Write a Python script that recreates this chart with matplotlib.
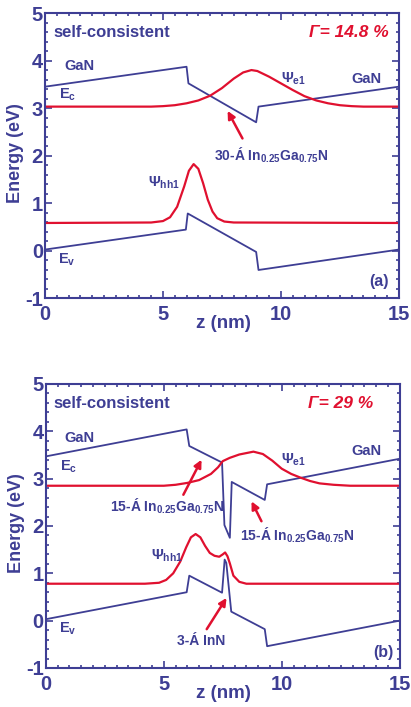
import matplotlib
matplotlib.use('Agg')
import matplotlib.pyplot as plt
from matplotlib.ticker import MultipleLocator

BLUE = '#3e3e94'
RED = '#e0102f'

plt.rcParams['font.family'] = ['Liberation Sans', 'DejaVu Sans']
plt.rcParams['font.weight'] = 'bold'
plt.rcParams['axes.labelweight'] = 'bold'
plt.rcParams['mathtext.fontset'] = 'custom'
plt.rcParams['mathtext.rm'] = 'Liberation Sans:bold'
plt.rcParams['mathtext.it'] = 'Liberation Sans:bold:italic'
plt.rcParams['mathtext.bf'] = 'Liberation Sans:bold'

x_ticks = [0, 5, 10, 15]
y_ticks = [-1, 0, 1, 2, 3, 4, 5]

# panel (a): single 30-A InGaN well
ec_a_z = [0, 6.0, 6.08, 8.95, 9.05, 15]
ec_a_e = [3.45, 3.87, 3.52, 2.70, 3.03, 3.45]
ev_a_z = [0, 5.97, 6.05, 8.95, 9.05, 15]
ev_a_e = [0.02, 0.44, 0.78, -0.03, -0.41, 0.02]
psi_e_a_z = [0, 4.5, 5.0, 5.5, 6.0, 6.5, 7.0, 7.5, 8.0, 8.4, 8.75, 9.0, 9.5,
             10.0, 10.5, 11.0, 11.5, 12.0, 12.5, 13.0, 13.5, 15]
psi_e_a_e = [3.03, 3.03, 3.04, 3.06, 3.10, 3.16, 3.26, 3.42, 3.62, 3.75, 3.80,
             3.78, 3.66, 3.52, 3.38, 3.25, 3.16, 3.10, 3.06, 3.04, 3.03, 3.03]
psi_h_a_z = [0, 4.5, 5.0, 5.3, 5.6, 5.9, 6.1, 6.3, 6.5, 6.7, 6.9, 7.1, 7.3,
             7.6, 8.0, 15]
psi_h_a_e = [0.58, 0.59, 0.62, 0.70, 0.92, 1.35, 1.68, 1.82, 1.72, 1.42, 1.07,
             0.82, 0.68, 0.61, 0.59, 0.58]

# panel (b): InGaN / InN / InGaN
ec_b_z = [0, 5.97, 6.08, 7.47, 7.57, 7.80, 7.88, 9.28, 9.38, 15]
ec_b_e = [3.47, 4.04, 3.69, 3.34, 2.02, 1.75, 2.93, 2.55, 2.88, 3.42]
ev_b_z = [0, 5.97, 6.08, 7.47, 7.58, 7.65, 7.86, 9.28, 9.38, 15]
ev_b_e = [0.03, 0.60, 0.95, 0.59, 1.29, 1.22, 0.19, -0.18, -0.54, 0.0]
psi_e_b_z = [0, 5.0, 5.5, 6.0, 6.5, 7.0, 7.3, 7.5, 7.8, 8.2, 8.8, 9.2, 9.6,
             10.0, 10.4, 10.8, 11.2, 11.6, 12.2, 12.9, 15]
psi_e_b_e = [2.85, 2.85, 2.87, 2.91, 2.97, 3.10, 3.24, 3.37, 3.44, 3.51, 3.57,
             3.52, 3.38, 3.21, 3.10, 3.02, 2.95, 2.90, 2.87, 2.85, 2.85]
psi_h_b_z = [0, 4.2, 4.8, 5.1, 5.4, 5.7, 5.95, 6.15, 6.35, 6.55, 6.75, 6.95,
             7.15, 7.35, 7.5, 7.6, 7.7, 7.8, 7.95, 8.2, 8.5, 15]
psi_h_b_e = [0.78, 0.78, 0.80, 0.86, 1.00, 1.25, 1.55, 1.76, 1.83, 1.76, 1.58,
             1.43, 1.37, 1.35, 1.40, 1.44, 1.36, 1.21, 0.95, 0.82, 0.78, 0.78]

fig = plt.figure(figsize=(4.11, 7.07), dpi=100)
ax_a = fig.add_axes([0.1095, 0.5785, 0.861, 0.403])
ax_b = fig.add_axes([0.1115, 0.0552, 0.861, 0.4017])


def style(ax):
    ax.set_xlim(0, 15)
    ax.set_ylim(-1, 5)
    ax.set_xticks(x_ticks)
    ax.set_xticklabels([str(t) for t in x_ticks], fontweight='bold')
    ax.set_yticks(y_ticks)
    ax.set_yticklabels([str(t) for t in y_ticks], fontweight='bold')
    ax.xaxis.set_minor_locator(MultipleLocator(0.5))
    ax.yaxis.set_minor_locator(MultipleLocator(0.2))
    ax.tick_params(which='both', direction='in', top=True, right=True,
                   color=BLUE, width=1.2, labelcolor=BLUE, labelsize=14.5)
    ax.tick_params(which='major', length=5)
    ax.tick_params(which='minor', length=2.5)
    ax.tick_params(axis='x', pad=5)
    ax.tick_params(axis='y', pad=1.5)
    for s in ax.spines.values():
        s.set_color(BLUE)
        s.set_linewidth(1.5)
    ax.set_xlabel('z (nm)', color=BLUE, fontsize=13.5, va='center')
    ax.xaxis.set_label_coords(0.503, -0.09)
    ax.set_ylabel('Energy (eV)', color=BLUE, fontsize=13, va='center')
    ax.yaxis.set_label_coords(-0.082, 0.51)


def arrow(ax, tail, head):
    ax.annotate('', xy=head, xytext=tail,
                arrowprops=dict(arrowstyle='-|>', color=RED, lw=1.8,
                                mutation_scale=11, shrinkA=0, shrinkB=0))


txt = dict(color=BLUE, fontsize=10.5)
lab = dict(color=BLUE, fontsize=10)

# (a)
ax = ax_a
style(ax)
ax.plot(ec_a_z, ec_a_e, color=BLUE, lw=1.3)
ax.plot(ev_a_z, ev_a_e, color=BLUE, lw=1.3)
ax.plot(psi_e_a_z, psi_e_a_e, color=RED, lw=1.6)
ax.plot(psi_h_a_z, psi_h_a_e, color=RED, lw=1.6)
ax.text(0.34, 4.6, 'self-consistent', color=BLUE, fontsize=12, va='center')
ax.text(14.55, 4.6, 'Γ= 14.8 %', color=RED, fontsize=12.5, style='italic',
        ha='right', va='center')
ax.text(0.8, 3.89, 'GaN', va='center', **txt)
ax.text(0.6, 3.27, 'E$_{\\rm c}$', va='center', **txt)
ax.text(10.0, 3.62, 'Ψ$_{\\rm e1}$', va='center', **txt)
ax.text(13.0, 3.61, 'GaN', va='center', **txt)
ax.text(7.16, 2.01, '30-Á In$_{0.25}$Ga$_{0.75}$N', va='center', **lab)
arrow(ax, (8.37, 2.36), (7.74, 2.94))
ax.text(4.38, 1.43, 'Ψ$_{\\rm hh1}$', va='center', **txt)
ax.text(0.56, -0.2, 'E$_{\\rm v}$', va='center', **txt)
ax.text(14.55, -0.66, '(a)', ha='right', va='center', color=BLUE, fontsize=11.5)

# (b)
ax = ax_b
style(ax)
ax.plot(ec_b_z, ec_b_e, color=BLUE, lw=1.3)
ax.plot(ev_b_z, ev_b_e, color=BLUE, lw=1.3)
ax.plot(psi_e_b_z, psi_e_b_e, color=RED, lw=1.6)
ax.plot(psi_h_b_z, psi_h_b_e, color=RED, lw=1.6)
ax.text(0.32, 4.58, 'self-consistent', color=BLUE, fontsize=12, va='center')
ax.text(13.9, 4.58, 'Γ= 29 %', color=RED, fontsize=12.5, style='italic',
        ha='right', va='center')
ax.text(0.79, 3.85, 'GaN', va='center', **txt)
ax.text(0.58, 3.24, 'E$_{\\rm c}$', va='center', **txt)
ax.text(9.96, 3.4, 'Ψ$_{\\rm e1}$', va='center', **txt)
ax.text(12.95, 3.59, 'GaN', va='center', **txt)
ax.text(2.72, 2.41, '15-Á In$_{0.25}$Ga$_{0.75}$N', va='center', **lab)
arrow(ax, (5.83, 2.66), (6.6, 3.40))
ax.text(8.25, 1.81, '15-Á In$_{0.25}$Ga$_{0.75}$N', va='center', **lab)
arrow(ax, (9.14, 2.1), (8.72, 2.52))
ax.text(4.44, 1.36, 'Ψ$_{\\rm hh1}$', va='center', **txt)
ax.text(0.54, -0.18, 'E$_{\\rm v}$', va='center', **txt)
ax.text(5.55, -0.42, '3-Á InN', va='center', **lab)
arrow(ax, (6.82, -0.18), (7.66, 0.48))
ax.text(14.72, -0.68, '(b)', ha='right', va='center', color=BLUE, fontsize=11.5)

fig.savefig('out.png', dpi=100)
